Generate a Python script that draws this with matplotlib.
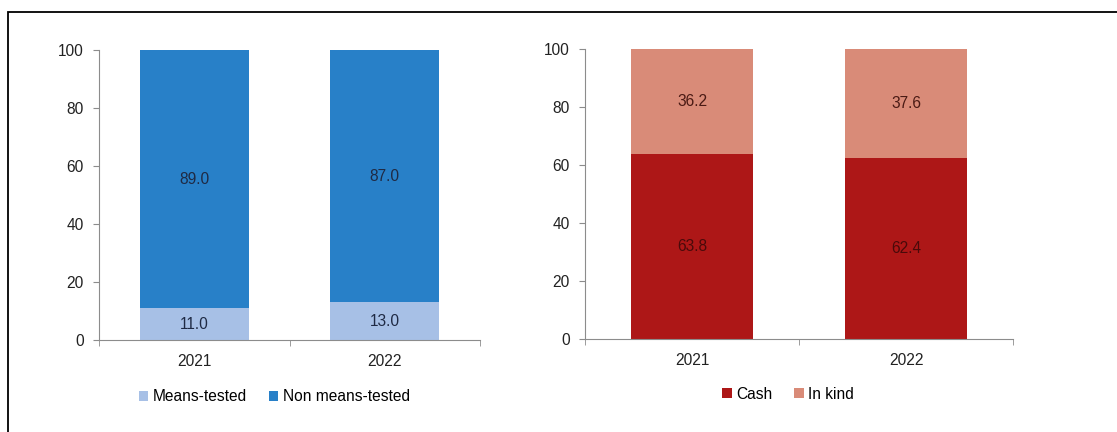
import matplotlib
matplotlib.use("Agg")
import matplotlib.pyplot as plt
from matplotlib.patches import Rectangle

plt.rcParams["font.family"] = ["Liberation Sans", "DejaVu Sans"]

years = ["2021", "2022"]
means_tested = [11.0, 13.0]
non_means_tested = [89.0, 87.0]
cash = [63.8, 62.4]
in_kind = [36.2, 37.6]
y_ticks = [0, 20, 40, 60, 80, 100]

W, H = 1117, 432
fig = plt.figure(figsize=(W / 100, H / 100), dpi=100)

# outer frame (left and top edges visible)
fig.patches.append(Rectangle((8 / W, -0.1), 1.2, (H - 12) / H + 0.1,
                             transform=fig.transFigure, fill=False,
                             edgecolor="black", linewidth=1.3))

spine_c = "#8c8c8c"
fs = 11.2


def panel(rect, bottom_vals, top_vals, colors, text_colors, names, legend_anchor):
    ax = fig.add_axes(rect)
    x = list(range(len(years)))
    b1 = ax.bar(x, bottom_vals, width=0.57, color=colors[0], label=names[0])
    b2 = ax.bar(x, top_vals, width=0.57, bottom=bottom_vals, color=colors[1], label=names[1])
    for i in x:
        ax.text(i, bottom_vals[i] / 2, f"{bottom_vals[i]:.1f}", ha="center", va="center",
                fontsize=fs, color=text_colors[0])
        ax.text(i, bottom_vals[i] + top_vals[i] / 2, f"{top_vals[i]:.1f}", ha="center",
                va="center", fontsize=fs, color=text_colors[1])
    ax.set_xlim(-0.5, len(years) - 0.5)
    ax.set_ylim(0, 100)
    ax.set_yticks(y_ticks)
    ax.set_xticks(x)
    ax.set_xticklabels(years)
    ax.set_xticks([-0.5, 0.5, 1.5], minor=True)
    ax.tick_params(axis="x", which="major", length=0, pad=10, labelsize=fs, labelcolor="#222222")
    ax.tick_params(axis="x", which="minor", length=4, color=spine_c, direction="out")
    ax.tick_params(axis="y", length=4, color=spine_c, pad=7, labelsize=fs, labelcolor="#222222")
    for s in ("top", "right"):
        ax.spines[s].set_visible(False)
    for s in ("left", "bottom"):
        ax.spines[s].set_color(spine_c)
    ax.legend(handles=[b1, b2], loc="center", bbox_to_anchor=legend_anchor, ncol=2,
              frameon=False, fontsize=fs, handlelength=0.6, handleheight=0.6,
              handletextpad=0.3, columnspacing=1.4, borderaxespad=0)
    return ax


# left: means-tested vs non means-tested
panel([99 / W, 1 - 340 / H, 381 / W, 290 / H], means_tested, non_means_tested,
      ["#a7c0e6", "#2880c8"], ["#1f2a44", "#1f2a44"],
      ["Means-tested", "Non means-tested"], (0.46, -0.195))

# right: cash vs in kind
panel([585 / W, 1 - 339 / H, 428 / W, 290 / H], cash, in_kind,
      ["#ad1717", "#d98b78"], ["#4a0a0a", "#4a1a14"],
      ["Cash", "In kind"], (0.475, -0.19))

fig.savefig("out.png", dpi=100)
